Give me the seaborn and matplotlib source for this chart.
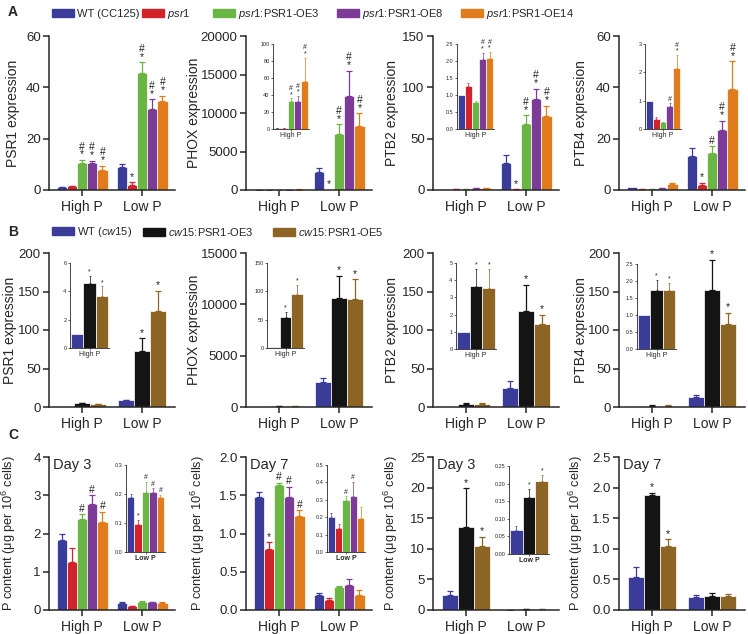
import matplotlib
matplotlib.use("Agg")
import matplotlib.pyplot as plt
import pandas as pd
import seaborn as sns
from matplotlib.patches import Patch

W, H = 748, 634

groups = ["High P", "Low P"]
lines_a = ["WT (CC125)", "psr1", "psr1:PSR1-OE3", "psr1:PSR1-OE8", "psr1:PSR1-OE14"]
labels_a = ["WT (CC125)", r"$\it{psr1}$", r"$\it{psr1}$:PSR1-OE3",
            r"$\it{psr1}$:PSR1-OE8", r"$\it{psr1}$:PSR1-OE14"]
lines_b = ["WT (cw15)", "cw15:PSR1-OE3", "cw15:PSR1-OE5"]
labels_b = [r"WT ($\it{cw15}$)", r"$\it{cw15}$:PSR1-OE3", r"$\it{cw15}$:PSR1-OE5"]
colors_a = ["#3b3c9a", "#d2232a", "#6ab544", "#7c3b97", "#e07c1c"]
colors_b = ["#3b3c9a", "#141414", "#8c6524"]

# rows: High P, Low P
a_psr1 = [[1.0, 1.5, 10.4, 10.4, 7.8], [9.1, 2.1, 45.7, 31.4, 34.8]]
a_psr1_err = [[0.1, 0.2, 1.3, 1.0, 1.7], [0.9, 0.9, 4.0, 3.9, 2.0]]
a_psr1_sig = [["", "", "*#", "*#", "*#"], ["", "*", "*#", "*#", "*#"]]

a_phox = [[1, 1, 33, 33, 57], [2400, 30, 7300, 12200, 8260]]
a_phox_err = [[0.3, 0.5, 3, 6, 27], [430, 0, 1270, 3300, 1740]]
a_phox_sig = [["", "", "*#", "*#", "*#"], ["", "*", "*#", "*#", "*#"]]

a_ptb2 = [[1.0, 1.26, 0.78, 2.05, 2.09], [26, 0.6, 64, 89, 72]]
a_ptb2_err = [[0.0, 0.1, 0.04, 0.2, 0.17], [8, 0.2, 8.6, 9.5, 10]]
a_ptb2_sig = [["", "", "", "*#", "*#"], ["", "*", "*#", "*#", "*#"]]

a_ptb4 = [[1.0, 0.35, 0.23, 0.8, 2.17], [13.3, 1.95, 14.6, 23.5, 39.3]]
a_ptb4_err = [[0.0, 0.07, 0.03, 0.11, 0.44], [3.0, 0.95, 2.4, 3.5, 10.9]]
a_ptb4_sig = [["", "", "", "#", "*#"], ["", "*", "#", "*#", "*#"]]

b_psr1 = [[1.0, 4.59, 3.69], [8.7, 73, 125]]
b_psr1_err = [[0, 0.5, 0.66], [0.9, 16, 26]]
b_phox = [[1, 54, 95], [2450, 10650, 10500]]
b_phox_err = [[0, 9.5, 17], [420, 2120, 1960]]
b_ptb2 = [[1.0, 3.69, 3.52], [25.2, 124.8, 107.4]]
b_ptb2_err = [[0, 0.98, 1.15], [8.8, 34, 12.2]]
b_ptb4 = [[1.0, 1.74, 1.74], [13, 152, 107.4]]
b_ptb4_err = [[0, 0.29, 0.21], [3, 39, 15.2]]
b_sig = [["", "*", "*"], ["", "*", "*"]]

c_day3_a = [[1.83, 1.26, 2.37, 2.77, 2.29], [0.188, 0.095, 0.208, 0.208, 0.19]]
c_day3_a_err = [[0.17, 0.35, 0.13, 0.23, 0.28], [0.012, 0.017, 0.034, 0.011, 0.008]]
c_day3_a_sig = [["", "", "#", "#", "#"], ["", "*", "#", "#", "#"]]
c_day7_a = [[1.478, 0.796, 1.63, 1.478, 1.226], [0.2, 0.137, 0.3, 0.322, 0.195]]
c_day7_a_err = [[0.065, 0.087, 0.035, 0.135, 0.075], [0.023, 0.023, 0.019, 0.083, 0.061]]
c_day7_a_sig = [["", "*", "#", "#", "#"], ["", "", "#", "#", ""]]
c_day3_b = [[2.5, 13.5, 10.5], [0.068, 0.161, 0.207]]
c_day3_b_err = [[0.6, 6.4, 1.5], [0.012, 0.023, 0.017]]
c_day3_b_sig = [["", "*", "*"], ["", "*", "*"]]
c_day7_b = [[0.536, 1.878, 1.05], [0.21, 0.227, 0.227]]
c_day7_b_err = [[0.164, 0.038, 0.108], [0.03, 0.05, 0.038]]
c_day7_b_sig = [["", "*", "*"], ["", "", ""]]

sns.set_theme(style="ticks")
plt.rcParams["font.family"] = ["Liberation Sans", "DejaVu Sans"]
plt.rcParams["mathtext.fontset"] = "custom"
plt.rcParams["mathtext.rm"] = "Liberation Sans"
plt.rcParams["mathtext.it"] = "Liberation Sans:italic"
plt.rcParams["mathtext.bf"] = "Liberation Sans:bold"

fig = plt.figure(figsize=(W / 100, H / 100), dpi=100)


def box(x0, y0, x1, y1):
    return [x0 / W, 1 - y1 / H, (x1 - x0) / W, (y1 - y0) / H]


def draw_bars(ax, means, errs, sigs, lines, colors, gsel, width, show_sig, fs, cap, elw):
    rows = []
    for gi in gsel:
        for li, name in enumerate(lines):
            rows.append({"group": groups[gi], "line": name, "value": means[gi][li]})
    df = pd.DataFrame(rows)
    sns.barplot(data=df, x="group", y="value", hue="line", hue_order=lines,
                order=[groups[g] for g in gsel], palette=colors, width=width,
                errorbar=None, legend=False, edgecolor="white", linewidth=0.5,
                saturation=1, ax=ax)
    pts = sorted(ax.patches, key=lambda p: p.get_x())
    for k, gi in enumerate(gsel):
        gp = [p for p in pts if round(p.get_x() + p.get_width() / 2) == k]
        for li, p in enumerate(gp):
            cx = p.get_x() + p.get_width() / 2
            h = p.get_height()
            e = errs[gi][li]
            if e > 0:
                ax.errorbar(cx, h, yerr=[[0], [e]], color=colors[li], capsize=cap,
                            elinewidth=elw, capthick=elw, fmt="none")
            s = sigs[gi][li]
            if show_sig[k] and s:
                ax.annotate("\n".join(reversed(s)), (cx, h + e), xytext=(0, 0.3),
                            textcoords="offset points", ha="center", va="bottom",
                            fontsize=fs, linespacing=0.75, color="#222222")


def main_panel(pos, means, errs, sigs, lines, colors, width, top, ticks, ylabel,
               label_x, label_fs=10, inset_group=None, day=None):
    ax = fig.add_axes(box(*pos))
    show = [True, True] if inset_group is None else [g != inset_group for g in (0, 1)]
    draw_bars(ax, means, errs, sigs, lines, colors, [0, 1], width, show, 7.5, 2, 0.9)
    ax.set_xlim(-0.55, 1.55)
    ax.set_ylim(0, top)
    ax.set_yticks(ticks)
    ax.set_xlabel("")
    ax.set_ylabel(ylabel, fontsize=label_fs)
    # the label's anchor is its right edge, a bit right of its centre
    ax.yaxis.set_label_coords((label_x + 0.7 * label_fs - pos[0]) / (pos[2] - pos[0]), 0.5)
    ax.tick_params(length=4, width=1.1, pad=2)
    ax.tick_params(axis="y", labelsize=9.5)
    ax.tick_params(axis="x", labelsize=10, pad=3)
    for s in ["left", "bottom"]:
        ax.spines[s].set_linewidth(1.1)
    sns.despine(ax=ax)
    if day:
        ax.text(0.03, 0.995, day, transform=ax.transAxes, ha="left", va="top", fontsize=10.5)
    return ax


def inset_panel(pos, means, errs, sigs, lines, colors, g, top, ticks, fmt, bold=False):
    ax = fig.add_axes(box(*pos))
    draw_bars(ax, means, errs, sigs, lines, colors, [g], 0.96, [True], 5, 1, 0.5)
    ax.set_xlim(-0.5, 0.5)
    ax.set_ylim(0, top)
    ax.set_yticks(ticks)
    ax.set_yticklabels([fmt.format(t) for t in ticks])
    ax.set_xlabel("")
    ax.set_ylabel("")
    ax.tick_params(labelsize=4, length=1.5, width=0.5, pad=1)
    for lab in ax.get_xticklabels():
        lab.set_fontsize(5)
        if bold:
            lab.set_fontweight("bold")
    for s in ["left", "bottom"]:
        ax.spines[s].set_linewidth(0.6)
    sns.despine(ax=ax)
    ax.patch.set_alpha(0)
    return ax


cols = [49, 246, 433, 619]
mw = 126
pc = r"P content (μg per 10$^{6}$ cells)"

# row A
main_panel((cols[0], 36, cols[0] + mw, 190), a_psr1, a_psr1_err, a_psr1_sig, lines_a,
           colors_a, 0.85, 60, [0, 20, 40, 60], "PSR1 expression", 13)
main_panel((cols[1], 36, cols[1] + mw, 190), a_phox, a_phox_err, a_phox_sig, lines_a,
           colors_a, 0.85, 20000, [0, 5000, 10000, 15000, 20000], "PHOX expression", 194,
           inset_group=0)
main_panel((cols[2], 36, cols[2] + mw, 190), a_ptb2, a_ptb2_err, a_ptb2_sig, lines_a,
           colors_a, 0.85, 150, [0, 50, 100, 150], "PTB2 expression", 392, inset_group=0)
main_panel((cols[3], 36, cols[3] + mw, 190), a_ptb4, a_ptb4_err, a_ptb4_sig, lines_a,
           colors_a, 0.85, 60, [0, 20, 40, 60], "PTB4 expression", 581, inset_group=0)
inset_panel((273, 44, 309, 129), a_phox, a_phox_err, a_phox_sig, lines_a, colors_a, 0,
            100, [0, 20, 40, 60, 80, 100], "{:g}")
inset_panel((457, 44, 494, 129), a_ptb2, a_ptb2_err, a_ptb2_sig, lines_a, colors_a, 0,
            2.5, [0, 0.5, 1.0, 1.5, 2.0, 2.5], "{:.1f}")
inset_panel((645, 44, 681, 129), a_ptb4, a_ptb4_err, a_ptb4_sig, lines_a, colors_a, 0,
            3, [0, 1, 2, 3], "{:g}")

# row B
main_panel((cols[0], 253, cols[0] + mw, 407), b_psr1, b_psr1_err, b_sig, lines_b,
           colors_b, 0.8, 200, [0, 50, 100, 150, 200], "PSR1 expression", 10, inset_group=0)
main_panel((cols[1], 253, cols[1] + mw, 407), b_phox, b_phox_err, b_sig, lines_b,
           colors_b, 0.8, 15000, [0, 5000, 10000, 15000], "PHOX expression", 194,
           inset_group=0)
main_panel((cols[2], 253, cols[2] + mw, 407), b_ptb2, b_ptb2_err, b_sig, lines_b,
           colors_b, 0.8, 200, [0, 50, 100, 150, 200], "PTB2 expression", 392, inset_group=0)
main_panel((cols[3], 253, cols[3] + mw, 407), b_ptb4, b_ptb4_err, b_sig, lines_b,
           colors_b, 0.8, 200, [0, 50, 100, 150, 200], "PTB4 expression", 581, inset_group=0)
inset_panel((70, 263, 109, 348), b_psr1, b_psr1_err, b_sig, lines_b, colors_b, 0,
            6, [0, 2, 4, 6], "{:g}")
inset_panel((267, 263, 304, 348), b_phox, b_phox_err, b_sig, lines_b, colors_b, 0,
            150, [0, 50, 100, 150], "{:g}")
inset_panel((456, 263, 496, 349), b_ptb2, b_ptb2_err, b_sig, lines_b, colors_b, 0,
            5, [0, 1, 2, 3, 4, 5], "{:g}")
inset_panel((637, 264, 676, 349), b_ptb4, b_ptb4_err, b_sig, lines_b, colors_b, 0,
            2.5, [0, 0.5, 1.0, 1.5, 2.0, 2.5], "{:.1f}")

# row C
main_panel((cols[0], 457, cols[0] + mw, 610), c_day3_a, c_day3_a_err, c_day3_a_sig, lines_a,
           colors_a, 0.85, 4, [0, 1, 2, 3, 4], pc, 12, 9.2, 1, "Day 3")
main_panel((cols[1], 457, cols[1] + mw, 610), c_day7_a, c_day7_a_err, c_day7_a_sig, lines_a,
           colors_a, 0.85, 2.0, [0, 0.5, 1.0, 1.5, 2.0], pc, 201, 9.2, 1, "Day 7")
main_panel((cols[2], 457, cols[2] + mw, 610), c_day3_b, c_day3_b_err, c_day3_b_sig, lines_b,
           colors_b, 0.8, 25, [0, 5, 10, 15, 20, 25], pc, 394, 9.2, 1, "Day 3")
main_panel((cols[3], 457, cols[3] + mw, 610), c_day7_b, c_day7_b_err, c_day7_b_sig, lines_b,
           colors_b, 0.8, 2.5, [0, 0.5, 1.0, 1.5, 2.0, 2.5], pc, 579, 9.2, None, "Day 7")
inset_panel((126, 465, 165, 552), c_day3_a, c_day3_a_err, c_day3_a_sig, lines_a, colors_a, 1,
            0.3, [0, 0.1, 0.2, 0.3], "{:.1f}", True)
inset_panel((327, 465, 365, 552), c_day7_a, c_day7_a_err, c_day7_a_sig, lines_a, colors_a, 1,
            0.5, [0, 0.1, 0.2, 0.3, 0.4, 0.5], "{:.1f}", True)
inset_panel((509, 466, 549, 554), c_day3_b, c_day3_b_err, c_day3_b_sig, lines_b, colors_b, 1,
            0.25, [0, 0.05, 0.1, 0.15, 0.2, 0.25], "{:.2f}", True)

# legends
for x, lab, c in zip([52, 142, 213, 337, 461], labels_a, colors_a):
    fig.legend(handles=[Patch(facecolor=c, edgecolor=c)], labels=[lab], loc="center left",
               bbox_to_anchor=(x / W, 1 - 14 / H), frameon=False, fontsize=8,
               handlelength=2.0, handleheight=0.75, handletextpad=0.25,
               borderpad=0, borderaxespad=0)
for x, lab, c in zip([52, 143, 273], labels_b, colors_b):
    fig.legend(handles=[Patch(facecolor=c, edgecolor=c)], labels=[lab], loc="center left",
               bbox_to_anchor=(x / W, 1 - 232 / H), frameon=False, fontsize=8,
               handlelength=2.0, handleheight=0.75, handletextpad=0.25,
               borderpad=0, borderaxespad=0)

for lab, y in [("A", 12), ("B", 232), ("C", 435)]:
    fig.text(8 / W, 1 - y / H, lab, fontsize=10, fontweight="bold", va="center", ha="left")

fig.savefig("out.png", dpi=100)
